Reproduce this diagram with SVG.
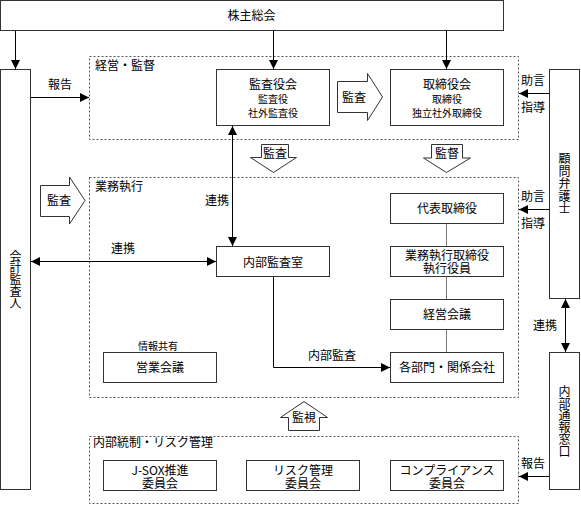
<svg xmlns="http://www.w3.org/2000/svg" width="581" height="505" viewBox="0 0 581 505">
<style>
text{font-family:"Noto Sans CJK JP","Noto Sans CJK SC",sans-serif;font-size:12px;fill:#000}
.m{text-anchor:middle}
.s{font-size:10px}
.v{writing-mode:vertical-rl;text-anchor:middle}
.box{fill:#fff;stroke:#333;stroke-width:1}
.grp{fill:none;stroke:#555;stroke-width:1;stroke-dasharray:2 2}
.ln{fill:none;stroke:#000;stroke-width:1}
.gl{fill:none;stroke:#777;stroke-width:1}
.blk{fill:#fff;stroke:#333;stroke-width:1}
</style>
<defs>
<marker id="ah" markerUnits="userSpaceOnUse" markerWidth="9" markerHeight="9" refX="9" refY="4.5" orient="auto-start-reverse">
<path d="M0,0 L9,4.5 L0,9 z" fill="#000"/>
</marker>
</defs>
<g id="groups">
<rect class="grp" x="89.5" y="56.5" width="429" height="83"/>
<text x="95" y="69.5">経営・監督</text>
<rect class="grp" x="89.5" y="177.5" width="429" height="220"/>
<text x="95" y="190.5">業務執行</text>
<rect class="grp" x="89.5" y="436.5" width="429" height="67"/>
<text x="93" y="447">内部統制・リスク管理</text>
</g>
<g id="connectors">
<line class="ln" x1="15.5" y1="31" x2="15.5" y2="69" marker-end="url(#ah)"/>
<line class="ln" x1="273.5" y1="31" x2="273.5" y2="69" marker-end="url(#ah)"/>
<line class="ln" x1="446.5" y1="31" x2="446.5" y2="69" stroke="#777" marker-end="url(#ah)"/>
<line class="ln" x1="31" y1="97.5" x2="89" y2="97.5" marker-end="url(#ah)"/>
<text class="m" x="60" y="88.5">報告</text>
<line class="ln" x1="549" y1="93.5" x2="519" y2="93.5" marker-end="url(#ah)"/>
<text class="m" x="533" y="84.5">助言</text>
<text class="m" x="533" y="111.5">指導</text>
<line class="ln" x1="549" y1="209.5" x2="519" y2="209.5" marker-end="url(#ah)"/>
<text class="m" x="533" y="200.5">助言</text>
<text class="m" x="533" y="227.5">指導</text>
<line class="ln" x1="232.5" y1="126" x2="232.5" y2="246" marker-start="url(#ah)" marker-end="url(#ah)"/>
<text class="m" x="217" y="204.5">連携</text>
<line class="ln" x1="31" y1="261.5" x2="216" y2="261.5" marker-start="url(#ah)" marker-end="url(#ah)"/>
<text class="m" x="123" y="253">連携</text>
<path class="ln" d="M273.5,277 V367.5 H390" marker-end="url(#ah)"/>
<text class="m" x="332" y="360">内部監査</text>
<line class="ln" x1="565.5" y1="299" x2="565.5" y2="352" marker-start="url(#ah)" marker-end="url(#ah)"/>
<text class="m" x="545" y="329.5">連携</text>
<line class="ln" x1="549" y1="476.5" x2="519" y2="476.5" marker-end="url(#ah)"/>
<text class="m" x="533" y="467.5">報告</text>
<line class="gl" x1="446.5" y1="224" x2="446.5" y2="246"/>
<line class="gl" x1="446.5" y1="277" x2="446.5" y2="299"/>
<line class="gl" x1="446.5" y1="330" x2="446.5" y2="352"/>
<text class="m s" x="158" y="349.8">情報共有</text>
</g>
<g id="block-arrows">
<polygon class="blk" points="337.5,81.5 367.5,81.5 367.5,73.5 382.5,97 367.5,120.5 367.5,112.5 337.5,112.5"/>
<text class="m" x="354" y="101.5">監査</text>
<polygon class="blk" points="261.5,144.5 288.5,144.5 288.5,157.5 296.5,157.5 273.5,172.5 250.5,157.5 261.5,157.5"/>
<text class="m" x="275" y="157.5">監査</text>
<polygon class="blk" points="431.5,144.5 462.5,144.5 462.5,158 470.5,158 446.5,172.5 423.5,158 431.5,158"/>
<text class="m" x="447" y="157.5">監督</text>
<polygon class="blk" points="40.5,185.5 69.5,185.5 69.5,177 85,200.5 69.5,224 69.5,216.5 40.5,216.5"/>
<text class="m" x="59" y="205">監査</text>
<polygon class="blk" points="288.5,430.5 288.5,417.5 280.5,417.5 304,401.5 327.5,417.5 319.5,417.5 319.5,430.5"/>
<text class="m" x="304" y="421.5">監視</text>
</g>
<g id="kabunushi"><rect class="box" x="0.5" y="0.5" width="503" height="30"/><text class="m" x="251.5" y="20">株主総会</text></g>
<g id="kaikei"><rect class="box" x="0.5" y="69.5" width="30" height="420"/>
<text class="v" x="15.5" y="279.5" style="letter-spacing:-0.25px">会計監査人</text></g>
<g id="kansayakukai"><rect class="box" x="216.5" y="69.5" width="113" height="56"/>
<text class="m" x="273" y="89">監査役会<tspan class="s" x="273" dy="14">監査役</tspan><tspan class="s" x="273" dy="13.5">社外監査役</tspan></text></g>
<g id="torishimariyakukai"><rect class="box" x="390.5" y="69.5" width="113" height="56"/>
<text class="m" x="447" y="89">取締役会<tspan class="s" x="447" dy="14">取締役</tspan><tspan class="s" x="447" dy="13.5">独立社外取締役</tspan></text></g>
<g id="komon"><rect class="box" x="549.5" y="69.5" width="30" height="229"/>
<text class="v" x="564.5" y="184" style="letter-spacing:0.5px">顧問弁護士</text></g>
<g id="daihyo"><rect class="box" x="390.5" y="193.5" width="113" height="30"/><text class="m" x="447" y="213">代表取締役</text></g>
<g id="gyomu"><rect class="box" x="390.5" y="246.5" width="113" height="30"/><text class="m" x="447" y="259.5">業務執行取締役<tspan x="447" dy="13">執行役員</tspan></text></g>
<g id="keiei"><rect class="box" x="390.5" y="299.5" width="113" height="30"/><text class="m" x="447" y="319">経営会議</text></g>
<g id="kakubumon"><rect class="box" x="390.5" y="352.5" width="113" height="30"/><text class="m" x="447" y="372">各部門・関係会社</text></g>
<g id="naibukansa"><rect class="box" x="216.5" y="246.5" width="113" height="30"/><text class="m" x="273" y="266.5">内部監査室</text></g>
<g id="eigyo"><rect class="box" x="103.5" y="352.5" width="113" height="30"/><text class="m" x="160" y="372">営業会議</text></g>
<g id="tsuho"><rect class="box" x="549.5" y="352.5" width="30" height="137"/>
<text class="v" x="564.5" y="421">内部通報窓口</text></g>
<g id="jsox"><rect class="box" x="103.5" y="460.5" width="113" height="30"/><text class="m" x="160" y="474.5">J-SOX推進<tspan x="160" dy="13.5">委員会</tspan></text></g>
<g id="risk"><rect class="box" x="246.5" y="460.5" width="113" height="30"/><text class="m" x="303" y="474.5">リスク管理<tspan x="303" dy="13.5">委員会</tspan></text></g>
<g id="compliance"><rect class="box" x="390.5" y="460.5" width="113" height="30"/><text class="m" x="447" y="474.5">コンプライアンス<tspan x="447" dy="13.5">委員会</tspan></text></g>
</svg>
